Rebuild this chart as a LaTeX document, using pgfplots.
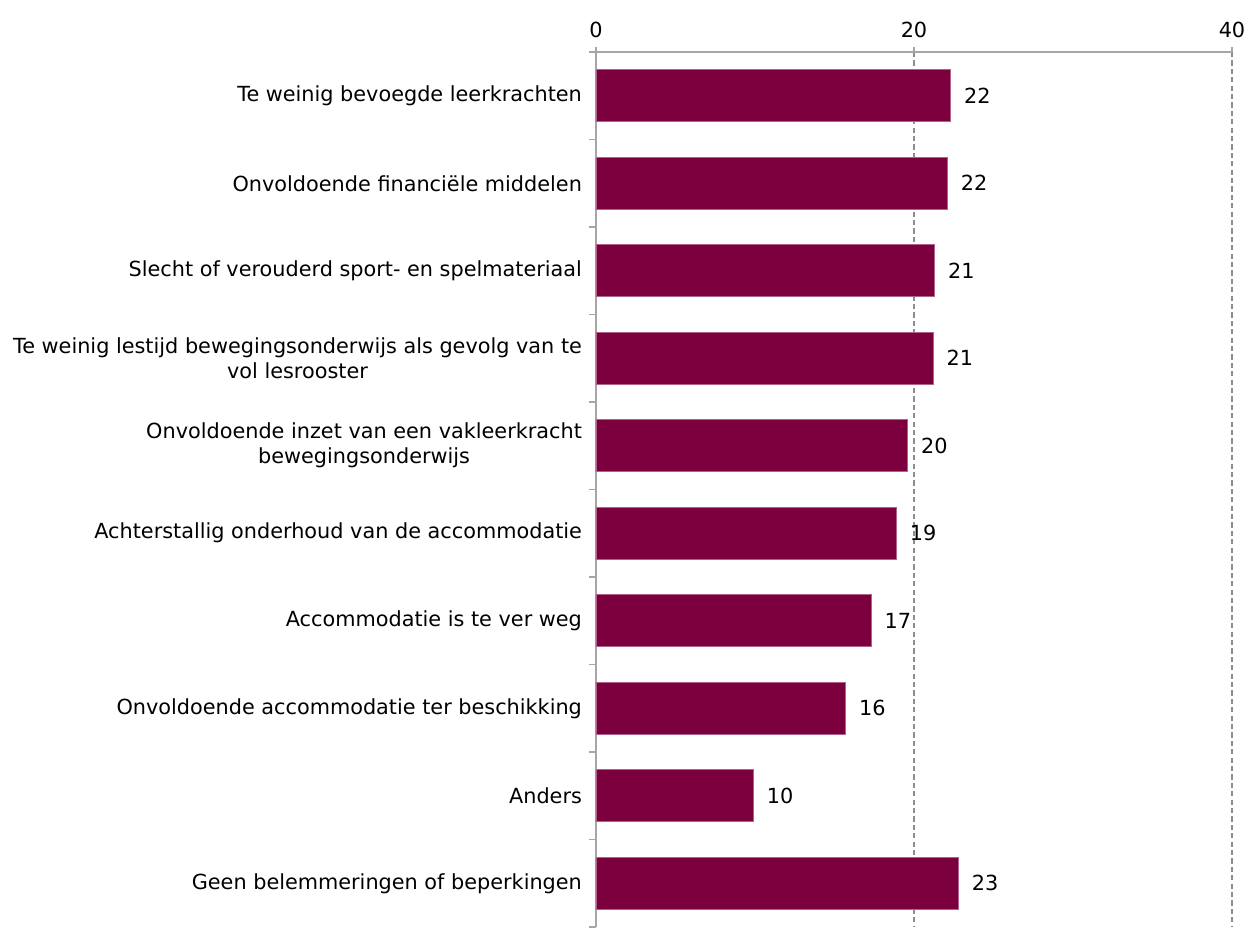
\documentclass[border=0pt]{standalone}
\usepackage{fontspec}
\setmainfont{DejaVu Sans}
\usepackage{pgfplots}
\pgfplotsset{compat=1.18}
\definecolor{barcol}{HTML}{7B003D}
\definecolor{baredge}{HTML}{B0638A}
\definecolor{axgrey}{HTML}{A6A6A6}
\definecolor{gridgrey}{HTML}{8C8C8C}

\begin{document}
\begin{tikzpicture}
% page size fixed to the reference proportions (1248x927 px at 0.5pt/px)
\useasboundingbox (-298pt,0pt) rectangle (326pt,463.5pt);
\begin{axis}[
    at={(0pt,0pt)}, anchor=south west,
    width=318pt, height=437.5pt, scale only axis,
    xbar, bar width=26pt,
    xmin=0, xmax=40, xtick={0,20,40},
    ymin=-0.5, ymax=9.5, y dir=reverse,
    ytick={0,...,9},
    minor ytick={-0.5,0.5,...,9.5},
    yticklabels={
        Te weinig bevoegde leerkrachten,
        Onvoldoende financiële middelen,
        Slecht of verouderd sport- en spelmateriaal,
        {Te weinig lestijd bewegingsonderwijs als gevolg van te\\vol lesrooster},
        {Onvoldoende inzet van een vakleerkracht\\bewegingsonderwijs},
        Achterstallig onderhoud van de accommodatie,
        Accommodatie is te ver weg,
        Onvoldoende accommodatie ter beschikking,
        Anders,
        Geen belemmeringen of beperkingen
    },
    axis x line*=top, axis y line*=left,
    axis line style={axgrey, line width=0.9pt},
    tick align=outside,
    major tick length=2.5pt, minor tick length=3.5pt,
    x tick style={axgrey, line width=0.9pt},
    major y tick style={draw=none},
    minor y tick style={axgrey, line width=0.9pt},
    xmajorgrids,
    major x grid style={gridgrey, line width=0.8pt, dash pattern=on 2.6pt off 1.6pt},
    /pgf/number format/assume math mode=true,
    tick label style={font=\fontsize{10.4}{12.5}\selectfont, black},
    yticklabel style={align=center, xshift=-1pt},
    xticklabel style={yshift=1pt},
    nodes near coords={\pgfmathprintnumber[fixed,precision=0,assume math mode=true]{\pgfplotspointmeta}},
    nodes near coords style={font=\fontsize{10.4}{12.5}\selectfont, black, anchor=west, xshift=3.2pt},
]
\addplot[fill=barcol, draw=baredge, line width=0.4pt] coordinates {
    (22.3,0) (22.1,1) (21.3,2) (21.2,3) (19.6,4)
    (18.9,5) (17.3,6) (15.7,7) (9.9,8) (22.8,9)
};
\end{axis}
\end{tikzpicture}
\end{document}
